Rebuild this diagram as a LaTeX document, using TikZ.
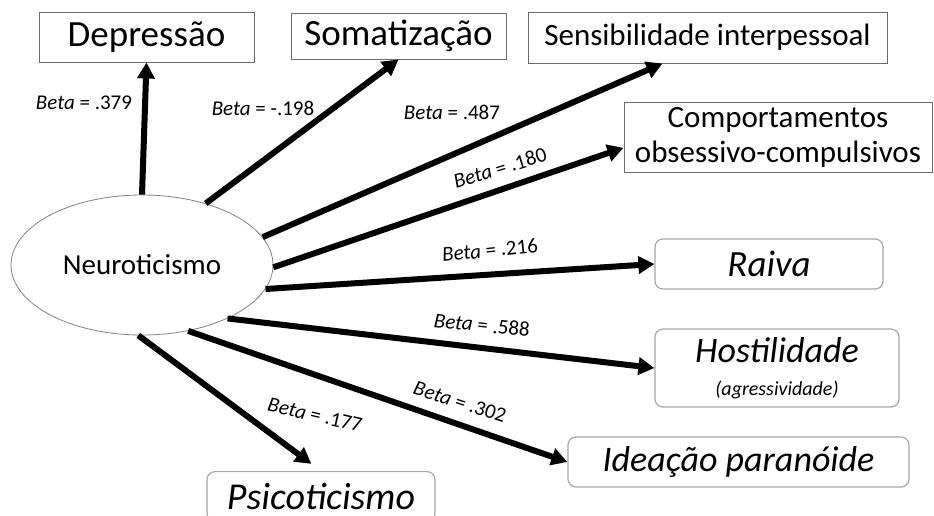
\documentclass[tikz,border=0pt]{standalone}
\usepackage{fontspec}
\setmainfont{Carlito}
\usetikzlibrary{arrows.meta,shapes.geometric}
\tikzset{
  box/.style={draw=gray!85!black, line width=1pt, inner sep=0pt, align=center},
  rbox/.style={draw=gray!70, line width=1.2pt, rounded corners=8pt, inner sep=0pt, align=center},
  beta/.style={font=\fontsize{21}{25}\selectfont, inner sep=0pt},
  seta/.style={line width=6pt, -{Triangle[length=16pt,width=17pt]}},
}
\newcommand{\betalab}[1]{\textit{Beta} = #1}
\begin{document}
\begin{tikzpicture}[x=1pt,y=-1pt]
	\useasboundingbox (0,0) rectangle (934,515);
	\clip (0,0) rectangle (934,515);
	% factor
		\node [ellipse, draw=gray, line width=0.8pt, minimum width=262pt, minimum height=140pt, font=\fontsize{29}{34}\selectfont] (neuro) at (142,265) {Neuroticismo};
	% dimensions
		\node [box, minimum width=215pt, minimum height=50pt, font=\fontsize{37}{44}\selectfont] (dep) at (146.5,37) {Depressão};
		\node [box, minimum width=215pt, minimum height=46pt, font=\fontsize{37}{44}\selectfont] (soma) at (398.5,36) {Somatização};
		\node [box, minimum width=359pt, minimum height=51pt, font=\fontsize{31}{36}\selectfont] (sens) at (707.5,37.5) {Sensibilidade interpessoal};
		\node [box, minimum width=308pt, minimum height=70pt, font=\fontsize{31}{35}\selectfont] (comp) at (778,137) {Comportamentos\\obsessivo-compulsivos};
		\node [rbox, minimum width=228pt, minimum height=50pt, font=\fontsize{37}{44}\selectfont\itshape] (raiva) at (769,264) {Raiva};
		\node [rbox, minimum width=244pt, minimum height=78pt, font=\fontsize{36}{30}\selectfont\itshape] (host) at (777,368) {Hostilidade\\[3pt]{\fontsize{20}{30}\selectfont(agressividade)}};
		\node [rbox, minimum width=341pt, minimum height=50pt, font=\fontsize{36}{43}\selectfont\itshape] (idea) at (738.5,462) {Ideação paranóide};
		\node [rbox, anchor=north, minimum width=228pt, inner ysep=11.5pt, font=\fontsize{38}{45}\selectfont\itshape] (psi) at (321,471) {Psicoticismo};
	% arrows
		\draw [seta] (neuro.north) -- (dep.south);
		\draw [seta] (neuro.44) -- (soma.south);
		\draw [seta] (neuro.13) -- (sens.210);
		\draw [seta] (neuro.-1) -- (comp.184);
		\draw [seta] (neuro.-11) -- (raiva.west);
		\draw [seta] (neuro.-32) -- (host.west);
		\draw [seta] (neuro.-55) -- (idea.west);
		\draw [seta, shorten >=12pt] (neuro.-93) -- (psi.north);
	% betas
		\node [beta] (b379) at (84,103) {\betalab{.379}};
		\node [beta] (b198) at (263,108) {\betalab{-.198}};
		\node [beta] (b487) at (452,112) {\betalab{.487}};
		\node [beta, rotate=17] (b180) at (500,168) {\betalab{.180}};
		\node [beta, rotate=6] (b216) at (490,250) {\betalab{.216}};
		\node [beta, rotate=-6] (b588) at (482,325) {\betalab{.588}};
		\node [beta, rotate=-18] (b302) at (460,402) {\betalab{.302}};
		\node [beta, rotate=-13] (b177) at (315,415) {\betalab{.177}};
\end{tikzpicture}
\end{document}
